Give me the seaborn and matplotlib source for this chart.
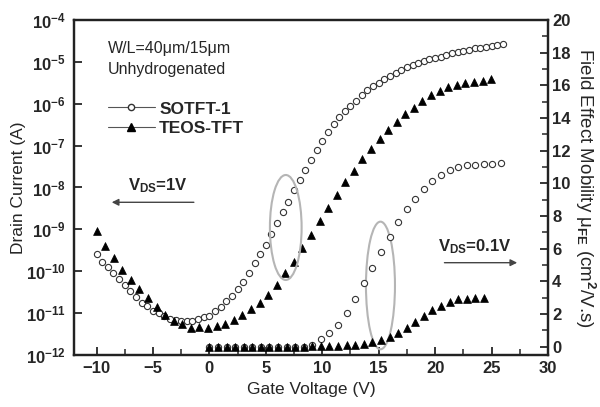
import numpy as np
import pandas as pd
import matplotlib
matplotlib.use('Agg')
import matplotlib.pyplot as plt
from matplotlib.lines import Line2D
from matplotlib.patches import Ellipse
from matplotlib.ticker import FixedLocator, MultipleLocator, NullLocator, FuncFormatter
import seaborn as sns

# transfer curves (Vds = 1V), drain current stored as log10(A)
sotft_vg = [-10, -9.5, -9, -8.5, -8, -7.5, -7, -6.5, -6, -5.5, -5, -4.5, -4, -3.5,
            -3, -2.5, -2, -1.5, -1, -0.5, 0, 0.5, 1, 1.5, 2, 2.5, 3, 3.5, 4, 4.5,
            5, 5.5, 6, 6.5, 7, 7.5, 8, 8.5, 9, 9.5, 10, 10.5, 11, 11.5, 12, 12.5,
            13, 13.5, 14, 14.5, 15, 15.5, 16, 16.5, 17, 17.5, 18, 18.5, 19, 19.5,
            20, 20.5, 21, 21.5, 22, 22.5, 23, 23.5, 24, 24.5, 25, 25.5, 26]
sotft_logid = [-9.59, -9.77, -9.91, -10.05, -10.19, -10.33, -10.48, -10.62, -10.75,
               -10.83, -10.94, -11.00, -11.08, -11.14, -11.16, -11.18, -11.18, -11.18,
               -11.14, -11.10, -11.06, -10.96, -10.86, -10.72, -10.59, -10.43, -10.25,
               -10.05, -9.81, -9.58, -9.37, -9.11, -8.85, -8.59, -8.34, -8.07, -7.82,
               -7.58, -7.34, -7.10, -6.88, -6.68, -6.48, -6.32, -6.17, -6.05, -5.93,
               -5.80, -5.68, -5.58, -5.50, -5.42, -5.34, -5.26, -5.19, -5.13, -5.07,
               -5.02, -4.97, -4.94, -4.91, -4.88, -4.84, -4.80, -4.76, -4.73, -4.71,
               -4.68, -4.66, -4.64, -4.61, -4.60, -4.57]

teos_vg = [-10.0, -9.24, -8.48, -7.72, -6.96, -6.2, -5.44, -4.68, -3.92, -3.16, -2.4,
           -1.64, -0.88, -0.12, 0.64, 1.4, 2.16, 2.92, 3.68, 4.44, 5.2, 5.96, 6.72,
           7.48, 8.24, 9.0, 9.76, 10.52, 11.28, 12.04, 12.8, 13.56, 14.32, 15.08,
           15.84, 16.6, 17.36, 18.12, 18.88, 19.64, 20.4, 21.16, 21.92, 22.68, 23.44,
           24.2, 24.96]
teos_logid = [-9.03, -9.39, -9.69, -9.97, -10.21, -10.42, -10.65, -10.86, -11.04,
              -11.18, -11.26, -11.36, -11.33, -11.36, -11.30, -11.26, -11.17, -11.05,
              -10.91, -10.75, -10.56, -10.32, -10.05, -9.77, -9.45, -9.13, -8.81,
              -8.49, -8.18, -7.87, -7.60, -7.33, -7.08, -6.85, -6.62, -6.43, -6.25,
              -6.09, -5.93, -5.80, -5.69, -5.59, -5.56, -5.51, -5.48, -5.45, -5.42]

# field effect mobility (Vds = 0.1V), cm2/V.s
sotft_mu_vg = [0, 0.76, 1.52, 2.28, 3.04, 3.8, 4.56, 5.32, 6.08, 6.84, 7.6, 8.36,
               9.12, 9.88, 10.64, 11.4, 12.16, 12.92, 13.68, 14.44, 15.2, 15.96,
               16.72, 17.48, 18.24, 19.0, 19.76, 20.52, 21.28, 22.04, 22.8, 23.56,
               24.32, 25.08, 25.84]
sotft_mu = [0, 0, 0, 0, 0, 0, 0, 0, 0, 0, 0, 0,
            0.1, 0.45, 0.82, 1.33, 2.04, 2.9, 3.88, 4.83, 5.81, 6.71, 7.65, 8.4,
            9.02, 9.66, 10.13, 10.5, 10.8, 11.0, 11.13, 11.15, 11.17, 11.2, 11.27]

teos_mu_vg = [0, 0.76, 1.52, 2.28, 3.04, 3.8, 4.56, 5.32, 6.08, 6.84, 7.6, 8.36,
              9.12, 9.88, 10.64, 11.4, 12.16, 12.92, 13.68, 14.44, 15.2, 15.96,
              16.72, 17.48, 18.24, 19.0, 19.76, 20.52, 21.28, 22.04, 22.8, 23.56, 24.32]
teos_mu = [0, 0, 0, 0, 0, 0, 0, 0, 0, 0, 0, 0,
           0.03, 0.04, 0.05, 0.06, 0.08, 0.12, 0.16, 0.27, 0.41, 0.61, 0.86, 1.16,
           1.53, 1.88, 2.24, 2.51, 2.75, 2.9, 2.94, 2.96, 2.96]

current_ticks = [1e-12, 1e-11, 1e-10, 1e-9, 1e-8, 1e-7, 1e-6, 1e-5, 1e-4]

sotft_df = pd.DataFrame({'vg': sotft_vg, 'id': 10 ** np.array(sotft_logid)})
teos_df = pd.DataFrame({'vg': teos_vg, 'id': 10 ** np.array(teos_logid)})
sotft_mu_df = pd.DataFrame({'vg': sotft_mu_vg, 'mu': sotft_mu})
teos_mu_df = pd.DataFrame({'vg': teos_mu_vg, 'mu': teos_mu})

sns.set_style("ticks")
plt.rcParams['font.family'] = ['Liberation Sans', 'DejaVu Sans']
plt.rcParams['font.weight'] = 'bold'
plt.rcParams['mathtext.fontset'] = 'custom'
plt.rcParams['mathtext.rm'] = 'Liberation Sans'
plt.rcParams['mathtext.bf'] = 'Liberation Sans:bold'
plt.rcParams['mathtext.it'] = 'Liberation Sans:italic'

fig = plt.figure(figsize=(6, 4.07), dpi=100)
ax = fig.add_axes([0.1233, 0.1278, 0.79, 0.8231])
ax.set_yscale('log')
ax2 = ax.twinx()

# drain current (left axis)
sns.scatterplot(data=sotft_df, x='vg', y='id', ax=ax, marker='o', s=20,
                color='white', edgecolor='#333333', linewidth=0.8, zorder=3)
sns.scatterplot(data=teos_df, x='vg', y='id', ax=ax, marker='^', s=32,
                color='black', edgecolor='black', linewidth=0.5, zorder=3)

# mobility (right axis)
sns.scatterplot(data=sotft_mu_df, x='vg', y='mu', ax=ax2, marker='o', s=20,
                color='white', edgecolor='#333333', linewidth=0.8, zorder=3)
sns.scatterplot(data=teos_mu_df, x='vg', y='mu', ax=ax2, marker='^', s=32,
                color='black', edgecolor='black', linewidth=0.5, zorder=4)

ax.set_xlim(-12, 30)
ax.set_ylim(1e-12, 1e-4)
ax2.set_ylim(-0.51, 20)

ax.xaxis.set_major_locator(MultipleLocator(5))
ax.xaxis.set_minor_locator(MultipleLocator(2.5))
ax.yaxis.set_major_locator(FixedLocator(current_ticks))
ax.yaxis.set_minor_locator(NullLocator())
ax.yaxis.set_major_formatter(FuncFormatter(lambda v, p: r'$\mathbf{10^{%d}}$' % round(np.log10(v))))
ax2.yaxis.set_major_locator(MultipleLocator(2))
ax2.yaxis.set_minor_locator(MultipleLocator(1))

for a in (ax, ax2):
    a.tick_params(which='major', direction='in', length=6, width=1.3, labelsize=12, pad=4)
    a.tick_params(which='minor', direction='in', length=4, width=1.1)
    for sp in a.spines.values():
        sp.set_linewidth(1.6)
        sp.set_color('#222222')
ax.tick_params(axis='y', pad=6)
ax2.tick_params(axis='y', pad=3)

ax.set_xlabel('Gate Voltage (V)', fontsize=12.5, fontweight='normal', labelpad=5)
ax.set_ylabel('Drain Current (A)', fontsize=12.5, fontweight='normal', labelpad=0)
ax2.set_ylabel(r'Field Effect Mobility μ$_{\mathrm{FE}}$ (cm$^{2}$/V.s)', fontsize=13.5,
               fontweight='normal', rotation=270, labelpad=19)

ax.text(0.0717, 0.916, 'W/L=40μm/15μm', transform=ax.transAxes, fontsize=11.5,
        fontweight='normal', va='center', ha='left')
ax.text(0.0717, 0.853, 'Unhydrogenated', transform=ax.transAxes, fontsize=11.5,
        fontweight='normal', va='center', ha='left')

handles = [Line2D([0], [0], color='#555555', lw=0.8, marker='o', mfc='white', mec='#333333', ms=4.5),
           Line2D([0], [0], color='#555555', lw=0.8, marker='^', mfc='black', mec='black', ms=5.5)]
ax.legend(handles, ['SOTFT-1', 'TEOS-TFT'], loc='upper left', bbox_to_anchor=(0.0717, 0.757),
          frameon=False, handlelength=2.7, handletextpad=0.25, borderpad=0, borderaxespad=0,
          labelspacing=0.25, prop={'weight': 'bold', 'size': 12.5})

ax.text(0.177, 0.504, r'$\mathbf{V_{DS}}$=1V', transform=ax.transAxes, fontsize=12,
        ha='center', va='center')
ax.annotate('', xy=(0.0738, 0.4558), xytext=(0.2588, 0.4558), xycoords='axes fraction',
            arrowprops=dict(arrowstyle='-|>', color='#444444', lw=1.0, mutation_scale=10))
ax.text(0.846, 0.3233, r'$\mathbf{V_{DS}}$=0.1V', transform=ax.transAxes, fontsize=12,
        ha='center', va='center')
ax.annotate('', xy=(0.9409, 0.2755), xytext=(0.7757, 0.2755), xycoords='axes fraction',
            arrowprops=dict(arrowstyle='-|>', color='#444444', lw=1.0, mutation_scale=10))

ax2.add_patch(Ellipse((0.4468, 0.3806), 0.0669, 0.3134, transform=ax.transAxes,
                      fill=False, edgecolor='#b5b5b5', lw=1.5, zorder=2))
ax2.add_patch(Ellipse((0.6466, 0.2075), 0.0612, 0.381, transform=ax.transAxes,
                      fill=False, edgecolor='#b5b5b5', lw=1.5, zorder=2))

fig.savefig('out.png', dpi=100)
